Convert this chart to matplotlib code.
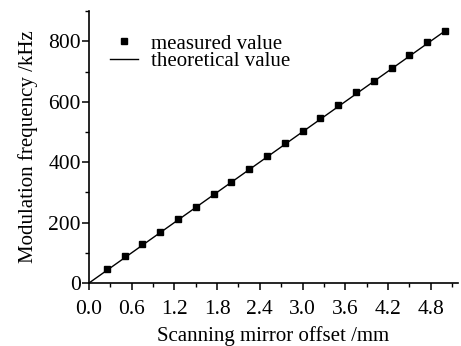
import matplotlib

matplotlib.use("Agg")
import matplotlib.pyplot as plt
from matplotlib.ticker import MultipleLocator, FormatStrFormatter

# measured points (mm, kHz)
offset_mm = [0.25, 0.5, 0.75, 1.0, 1.25, 1.5, 1.75, 2.0, 2.25, 2.5,
             2.75, 3.0, 3.25, 3.5, 3.75, 4.0, 4.25, 4.5, 4.75, 5.0]
freq_khz = [45, 88, 130, 168, 212, 253, 294, 334, 377, 421,
            463, 504, 546, 589, 631, 670, 713, 753, 796, 834]

# theoretical straight line
theory_x = [0.0, 5.0]
theory_y = [0.0, 834.0]

plt.rcParams["font.family"] = ["Liberation Serif", "DejaVu Serif"]

fig = plt.figure(figsize=(4.61, 3.46), dpi=100)
ax = fig.add_axes([0.193, 0.182, 0.8, 0.786])

ax.plot(theory_x, theory_y, color="black", lw=1.0, label="theoretical value")
ax.plot(offset_mm, freq_khz, "s", color="black", ms=4.5, label="measured value",
        zorder=3)

ax.set_xlim(0, 5.18)
ax.set_ylim(0, 900)
ax.xaxis.set_major_locator(MultipleLocator(0.6))
ax.xaxis.set_minor_locator(MultipleLocator(0.3))
ax.yaxis.set_major_locator(MultipleLocator(200))
ax.yaxis.set_minor_locator(MultipleLocator(100))
ax.xaxis.set_major_formatter(FormatStrFormatter("%.1f"))

for side in ("top", "right"):
    ax.spines[side].set_visible(False)
for side in ("left", "bottom"):
    ax.spines[side].set_linewidth(1.2)
ax.tick_params(which="major", direction="out", length=5, width=1.1,
               labelsize=15.5)
ax.tick_params(axis="x", which="major", pad=7)
ax.tick_params(axis="y", which="major", pad=1)
ax.tick_params(which="minor", direction="out", length=3, width=1.0)

ax.set_xlabel("Scanning mirror offset /mm", fontsize=15, labelpad=5)
ax.set_ylabel("Modulation frequency /kHz", fontsize=15, labelpad=7)

handles, labels = ax.get_legend_handles_labels()
ax.legend(handles[::-1], labels[::-1], loc="upper left",
          bbox_to_anchor=(0.057, 0.915), frameon=False, fontsize=15,
          handlelength=1.35, handletextpad=0.6, labelspacing=-0.1,
          borderaxespad=0.0, borderpad=0.0)

fig.savefig("out.png", dpi=100)
